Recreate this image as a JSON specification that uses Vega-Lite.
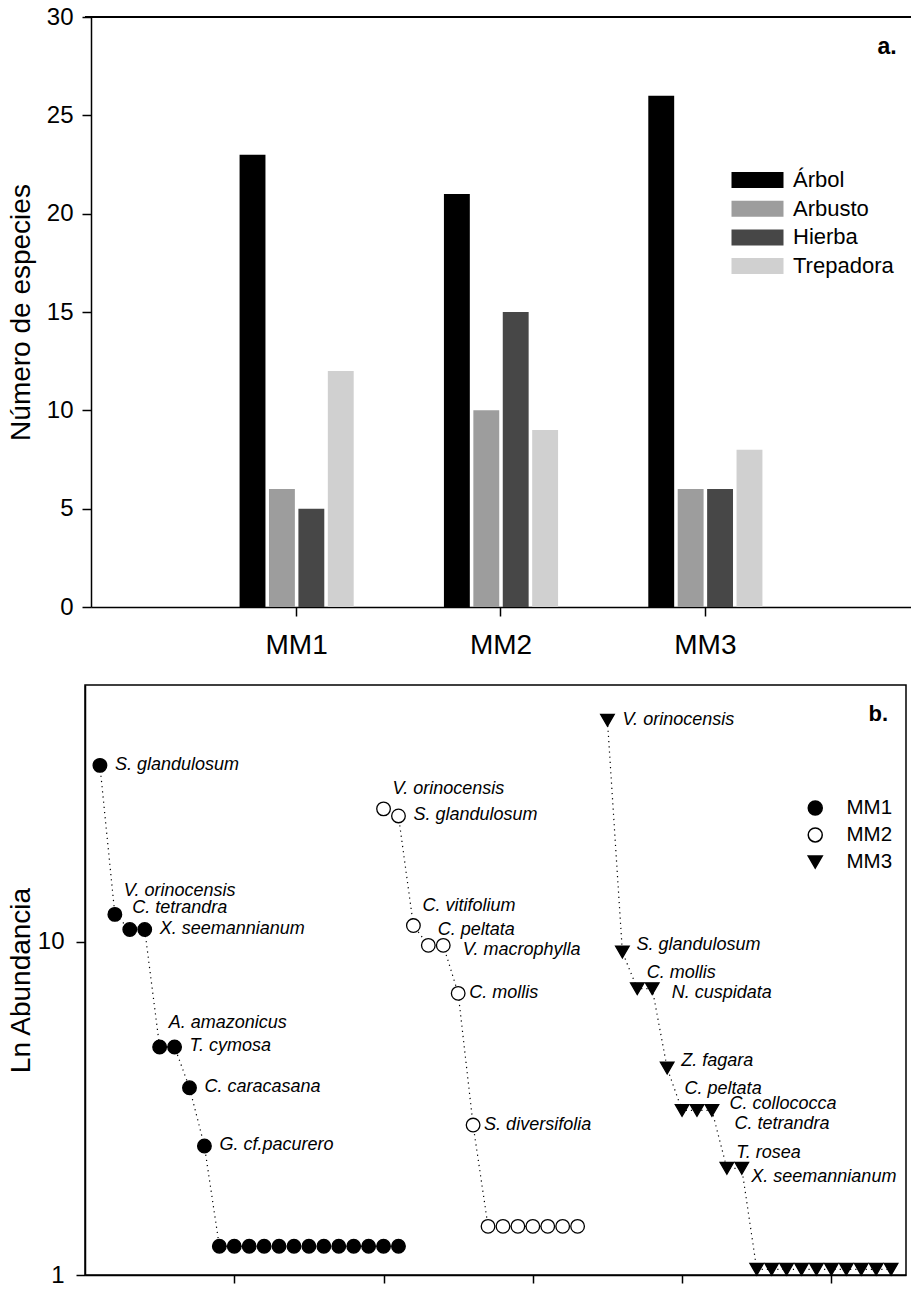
{
  "$schema": "https://vega.github.io/schema/vega-lite/v6.json",
  "padding": {"left": 6, "top": 5, "right": 0, "bottom": 0},
  "spacing": 25,
  "datasets": {
    "bars": [
      {"site": "MM1", "tipo": "Árbol", "n": 23},
      {"site": "MM1", "tipo": "Arbusto", "n": 6},
      {"site": "MM1", "tipo": "Hierba", "n": 5},
      {"site": "MM1", "tipo": "Trepadora", "n": 12},
      {"site": "MM2", "tipo": "Árbol", "n": 21},
      {"site": "MM2", "tipo": "Arbusto", "n": 10},
      {"site": "MM2", "tipo": "Hierba", "n": 15},
      {"site": "MM2", "tipo": "Trepadora", "n": 9},
      {"site": "MM3", "tipo": "Árbol", "n": 26},
      {"site": "MM3", "tipo": "Arbusto", "n": 6},
      {"site": "MM3", "tipo": "Hierba", "n": 6},
      {"site": "MM3", "tipo": "Trepadora", "n": 8}
    ],
    "pts": [
      {"site": "MM1", "rank": 1, "abund": 33.9, "label": "S. glandulosum"},
      {"site": "MM1", "rank": 2, "abund": 12.1, "label": "V. orinocensis"},
      {"site": "MM1", "rank": 3, "abund": 10.9, "label": "C. tetrandra"},
      {"site": "MM1", "rank": 4, "abund": 10.9, "label": "X. seemannianum"},
      {"site": "MM1", "rank": 5, "abund": 4.84, "label": "A. amazonicus"},
      {"site": "MM1", "rank": 6, "abund": 4.84, "label": "T. cymosa"},
      {"site": "MM1", "rank": 7, "abund": 3.65, "label": "C. caracasana"},
      {"site": "MM1", "rank": 8, "abund": 2.44, "label": "G. cf.pacurero"},
      {"site": "MM1", "rank": 9, "abund": 1.22, "label": ""},
      {"site": "MM1", "rank": 10, "abund": 1.22, "label": ""},
      {"site": "MM1", "rank": 11, "abund": 1.22, "label": ""},
      {"site": "MM1", "rank": 12, "abund": 1.22, "label": ""},
      {"site": "MM1", "rank": 13, "abund": 1.22, "label": ""},
      {"site": "MM1", "rank": 14, "abund": 1.22, "label": ""},
      {"site": "MM1", "rank": 15, "abund": 1.22, "label": ""},
      {"site": "MM1", "rank": 16, "abund": 1.22, "label": ""},
      {"site": "MM1", "rank": 17, "abund": 1.22, "label": ""},
      {"site": "MM1", "rank": 18, "abund": 1.22, "label": ""},
      {"site": "MM1", "rank": 19, "abund": 1.22, "label": ""},
      {"site": "MM1", "rank": 20, "abund": 1.22, "label": ""},
      {"site": "MM1", "rank": 21, "abund": 1.22, "label": ""},
      {"site": "MM2", "rank": 20, "abund": 25.1, "label": "V. orinocensis"},
      {"site": "MM2", "rank": 21, "abund": 23.9, "label": "S. glandulosum"},
      {"site": "MM2", "rank": 22, "abund": 11.2, "label": "C. vitifolium"},
      {"site": "MM2", "rank": 23, "abund": 9.77, "label": "C. peltata"},
      {"site": "MM2", "rank": 24, "abund": 9.77, "label": "V. macrophylla"},
      {"site": "MM2", "rank": 25, "abund": 7.01, "label": "C. mollis"},
      {"site": "MM2", "rank": 26, "abund": 2.82, "label": "S. diversifolia"},
      {"site": "MM2", "rank": 27, "abund": 1.40, "label": ""},
      {"site": "MM2", "rank": 28, "abund": 1.40, "label": ""},
      {"site": "MM2", "rank": 29, "abund": 1.40, "label": ""},
      {"site": "MM2", "rank": 30, "abund": 1.40, "label": ""},
      {"site": "MM2", "rank": 31, "abund": 1.40, "label": ""},
      {"site": "MM2", "rank": 32, "abund": 1.40, "label": ""},
      {"site": "MM2", "rank": 33, "abund": 1.40, "label": ""},
      {"site": "MM3", "rank": 35, "abund": 46.3, "label": "V. orinocensis"},
      {"site": "MM3", "rank": 36, "abund": 9.33, "label": "S. glandulosum"},
      {"site": "MM3", "rank": 37, "abund": 7.24, "label": "C. mollis"},
      {"site": "MM3", "rank": 38, "abund": 7.24, "label": "N. cuspidata"},
      {"site": "MM3", "rank": 39, "abund": 4.18, "label": "Z. fagara"},
      {"site": "MM3", "rank": 40, "abund": 3.12, "label": "C. peltata"},
      {"site": "MM3", "rank": 41, "abund": 3.12, "label": "C. collococca"},
      {"site": "MM3", "rank": 42, "abund": 3.12, "label": "C. tetrandra"},
      {"site": "MM3", "rank": 43, "abund": 2.09, "label": "T. rosea"},
      {"site": "MM3", "rank": 44, "abund": 2.09, "label": "X. seemannianum"},
      {"site": "MM3", "rank": 45, "abund": 1.04, "label": ""},
      {"site": "MM3", "rank": 46, "abund": 1.04, "label": ""},
      {"site": "MM3", "rank": 47, "abund": 1.04, "label": ""},
      {"site": "MM3", "rank": 48, "abund": 1.04, "label": ""},
      {"site": "MM3", "rank": 49, "abund": 1.04, "label": ""},
      {"site": "MM3", "rank": 50, "abund": 1.04, "label": ""},
      {"site": "MM3", "rank": 51, "abund": 1.04, "label": ""},
      {"site": "MM3", "rank": 52, "abund": 1.04, "label": ""},
      {"site": "MM3", "rank": 53, "abund": 1.04, "label": ""},
      {"site": "MM3", "rank": 54, "abund": 1.04, "label": ""}
    ]
  },
  "vconcat": [
    {
      "width": 826,
      "height": 590,
      "title": {"text": "a.", "anchor": "end", "fontSize": 23, "fontWeight": "bold", "font": "Liberation Sans", "offset": -36, "dx": -15, "dy": 36, "baseline": "alphabetic", "color": "black"},
      "data": {"name": "bars"},
      "layer": [
        {
          "mark": {"type": "bar"},
          "encoding": {
            "x": {"field": "site", "type": "nominal",
              "scale": {"range": [6, 826], "paddingInner": 0.4415, "paddingOuter": 0.727},
              "axis": {"title": null, "labelFontSize": 28, "tickSize": 9, "labelPadding": 15, "labelAngle": 0}},
            "xOffset": {"field": "tipo", "type": "nominal", "sort": ["Árbol", "Arbusto", "Hierba", "Trepadora"],
              "scale": {"paddingInner": 0.12, "paddingOuter": 0}},
            "y": {"field": "n", "type": "quantitative",
              "scale": {"domain": [0, 30], "nice": false},
              "axis": {"values": [0, 5, 10, 15, 20, 25, 30], "tickSize": 9, "labelPadding": 9, "labelFontSize": 24,
                "title": "Número de especies", "titleFontSize": 28, "titlePadding": 11, "offset": -6}},
            "color": {"field": "tipo", "type": "nominal", "sort": ["Árbol", "Arbusto", "Hierba", "Trepadora"],
              "scale": {"domain": ["Árbol", "Arbusto", "Hierba", "Trepadora"], "range": ["#000000", "#9d9d9d", "#474747", "#d0d0d0"]},
              "legend": {"title": null, "orient": "none", "legendX": 661.5, "legendY": 152,
                "symbolType": "M-3.25,-1H3.25V1H-3.25Z", "symbolSize": 256, "symbolStrokeWidth": 0, "symbolOpacity": 1,
                "labelFontSize": 22, "labelOffset": 24.5, "rowPadding": 6.7, "labelColor": "black"}}
          }
        },
        {
          "mark": {"type": "rule", "color": "black", "strokeWidth": 1.5},
          "encoding": {"y": {"datum": 30}}
        }
      ]
    },
    {
      "width": 821,
      "height": 590,
      "view": {"stroke": "black", "strokeWidth": 1.5},
      "title": {"text": "b.", "anchor": "end", "fontSize": 22, "fontWeight": "bold", "font": "Liberation Sans", "offset": -38, "dx": -18, "dy": 20, "baseline": "alphabetic", "color": "black"},
      "data": {"name": "pts"},
      "encoding": {
        "x": {"field": "rank", "type": "quantitative",
          "scale": {"domain": [0, 55], "nice": false},
          "axis": {"values": [10, 20, 30, 40, 50], "labels": false, "tickSize": 8, "title": null}},
        "y": {"field": "abund", "type": "quantitative",
          "scale": {"type": "log", "domain": [1, 59.1], "nice": false},
          "axis": {"values": [1, 10], "tickSize": 9, "labelPadding": 12, "labelFontSize": 24,
            "title": "Ln Abundancia", "titleFontSize": 28, "titlePadding": 2}}
      },
      "layer": [
        {
          "mark": {"type": "line", "color": "black", "strokeWidth": 1.2, "strokeDash": [1.2, 4]},
          "encoding": {"detail": {"field": "site"}, "order": {"field": "rank"}}
        },
        {
          "mark": {"type": "point", "filled": true, "stroke": "black", "strokeWidth": 1.3, "size": 185, "opacity": 1},
          "encoding": {
            "shape": {"field": "site", "type": "nominal",
              "scale": {"domain": ["MM1", "MM2", "MM3"], "range": ["circle", "circle", "triangle-down"]},
              "legend": {"title": null, "orient": "none", "legendX": 720, "legendY": 780.7,
                "symbolSize": 196, "labelFontSize": 20.5, "labelOffset": 21, "rowPadding": 6, "labelColor": "black",
                "encode": {"symbols": {"update": {
                  "shape": {"signal": "datum.value === 'MM3' ? 'M-3.45,0h0.3M-2.7,0h0.3M-1.95,0h0.3M1.65,0h0.3M2.45,0h0.3M-1.1,-0.9L1.1,-0.9L0,1Z' : 'M-3.45,0h0.3M-2.7,0h0.3M-1.95,0h0.3M1.65,0h0.3M2.45,0h0.3M-1.1,0A1.1,1.1,0,1,1,1.1,0A1.1,1.1,0,1,1,-1.1,0Z'"},
                  "fill": {"signal": "datum.value === 'MM2' ? 'white' : 'black'"},
                  "stroke": {"value": "black"},
                  "strokeWidth": {"value": 1.5},
                  "opacity": {"value": 1}
                }}}}},
            "fill": {"field": "site", "type": "nominal",
              "scale": {"domain": ["MM1", "MM2", "MM3"], "range": ["black", "white", "black"]},
              "legend": null}
          }
        },
        {
          "transform": [{"filter": "datum.label != '' && indexof([1,4,6,7,8,21,35], datum.rank) >= 0"}],
          "mark": {"type": "text", "align": "left", "baseline": "middle", "fontStyle": "italic", "fontSize": 18, "dx": 15, "dy": -0.5, "color": "black"},
          "encoding": {"text": {"field": "label"}}
        },
        {
          "transform": [{"filter": "datum.label != '' && indexof([25,26], datum.rank) >= 0"}],
          "mark": {"type": "text", "align": "left", "baseline": "middle", "fontStyle": "italic", "fontSize": 18, "dx": 11, "dy": -0.5, "color": "black"},
          "encoding": {"text": {"field": "label"}}
        },
        {
          "transform": [{"filter": "datum.label != '' && indexof([36,39], datum.rank) >= 0"}],
          "mark": {"type": "text", "align": "left", "baseline": "middle", "fontStyle": "italic", "fontSize": 18, "dx": 14, "dy": -7, "color": "black"},
          "encoding": {"text": {"field": "label"}}
        },
        {
          "transform": [{"filter": "datum.label != '' && indexof([2,5], datum.rank) >= 0"}],
          "mark": {"type": "text", "align": "left", "baseline": "middle", "fontStyle": "italic", "fontSize": 18, "dx": 9, "dy": -23.5, "color": "black"},
          "encoding": {"text": {"field": "label"}}
        },
        {
          "transform": [{"filter": "datum.label != '' && indexof([20,22], datum.rank) >= 0"}],
          "mark": {"type": "text", "align": "left", "baseline": "middle", "fontStyle": "italic", "fontSize": 18, "dx": 9, "dy": -20, "color": "black"},
          "encoding": {"text": {"field": "label"}}
        },
        {
          "transform": [{"filter": "datum.label != '' && indexof([3,40], datum.rank) >= 0"}],
          "mark": {"type": "text", "align": "left", "baseline": "middle", "fontStyle": "italic", "fontSize": 18, "dx": 2.5, "dy": -21.5, "color": "black"},
          "encoding": {"text": {"field": "label"}}
        },
        {
          "transform": [{"filter": "datum.label != '' && indexof([23,37,43], datum.rank) >= 0"}],
          "mark": {"type": "text", "align": "left", "baseline": "middle", "fontStyle": "italic", "fontSize": 18, "dx": 9.5, "dy": -15.5, "color": "black"},
          "encoding": {"text": {"field": "label"}}
        },
        {
          "transform": [{"filter": "datum.label != '' && indexof([24,38], datum.rank) >= 0"}],
          "mark": {"type": "text", "align": "left", "baseline": "middle", "fontStyle": "italic", "fontSize": 18, "dx": 19.5, "dy": 4.5, "color": "black"},
          "encoding": {"text": {"field": "label"}}
        },
        {
          "transform": [{"filter": "datum.label != '' && datum.rank == 41"}],
          "mark": {"type": "text", "align": "left", "baseline": "middle", "fontStyle": "italic", "fontSize": 18, "dx": 32.5, "dy": -6.5, "color": "black"},
          "encoding": {"text": {"field": "label"}}
        },
        {
          "transform": [{"filter": "datum.label != '' && datum.rank == 42"}],
          "mark": {"type": "text", "align": "left", "baseline": "middle", "fontStyle": "italic", "fontSize": 18, "dx": 22.5, "dy": 14, "color": "black"},
          "encoding": {"text": {"field": "label"}}
        },
        {
          "transform": [{"filter": "datum.label != '' && datum.rank == 44"}],
          "mark": {"type": "text", "align": "left", "baseline": "middle", "fontStyle": "italic", "fontSize": 18, "dx": 9.5, "dy": 8.7, "color": "black"},
          "encoding": {"text": {"field": "label"}}
        }
      ]
    }
  ],
  "config": {
    "font": "Liberation Sans",
    "view": {"stroke": null},
    "axis": {"domainColor": "black", "tickColor": "black", "labelColor": "black", "titleColor": "black",
      "domainWidth": 1.5, "tickWidth": 1.5, "grid": false, "titleFontWeight": "normal", "labelFont": "Liberation Sans", "titleFont": "Liberation Sans"},
    "legend": {"labelFont": "Liberation Sans"},
    "text": {"font": "Liberation Sans"}
  }
}
